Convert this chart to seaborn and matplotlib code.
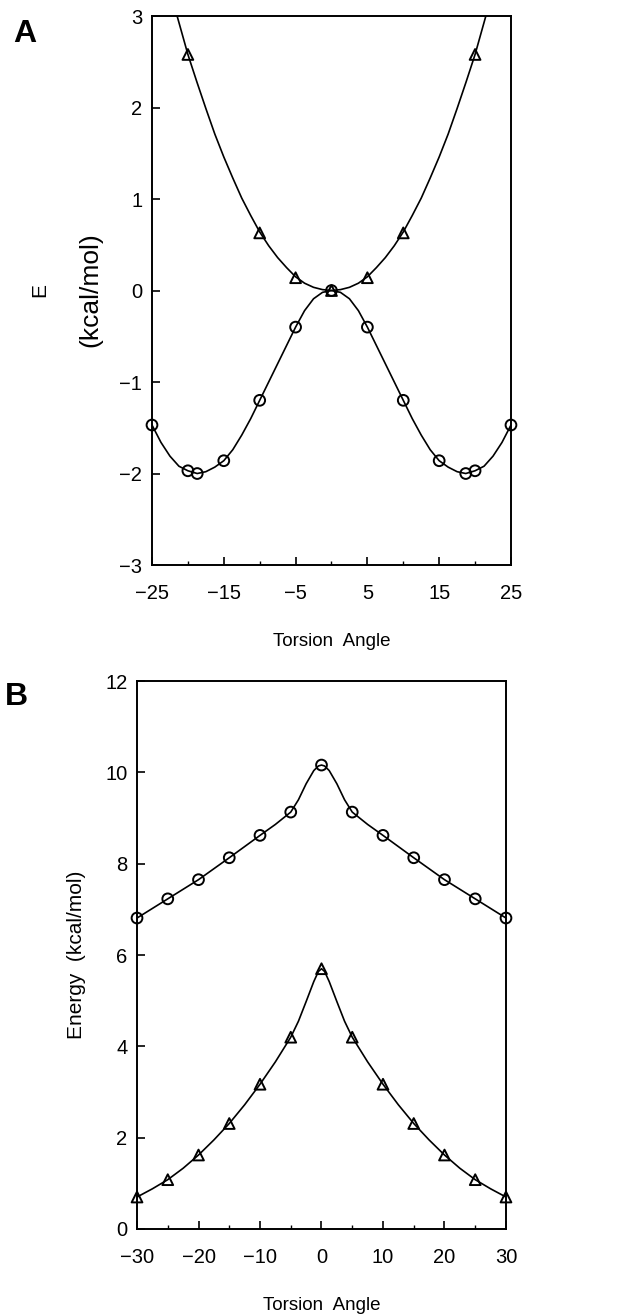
import matplotlib
matplotlib.use("Agg")
import matplotlib.pyplot as plt
import seaborn as sns
from matplotlib.ticker import MultipleLocator

# Panel A: markers
a_circ_x = [-25, -20, -18.7, -15, -10, -5, 0, 5, 10, 15, 18.7, 20, 25]
a_circ_y = [-1.47, -1.97, -2.0, -1.86, -1.2, -0.4, 0.0, -0.4, -1.2, -1.86, -2.0, -1.97, -1.47]
a_tri_x = [-20, -10, -5, 0, 5, 10, 20]
a_tri_y = [2.58, 0.63, 0.14, 0.0, 0.14, 0.63, 2.58]

# Panel A: curves
a_circ_cx = [-25, -23.75, -22.5, -21.25, -20, -18.7, -17.5, -16.25, -15, -13.75, -12.5, -11.25, -10,
             -8.75, -7.5, -6.25, -5, -3.75, -2.5, -1.25, 0,
             1.25, 2.5, 3.75, 5, 6.25, 7.5, 8.75, 10, 11.25, 12.5, 13.75, 15, 16.25, 17.5, 18.7,
             20, 21.25, 22.5, 23.75, 25]
a_circ_cy = [-1.47, -1.66, -1.81, -1.92, -1.97, -2.0, -1.98, -1.93, -1.86, -1.74, -1.58, -1.4, -1.2,
             -1.0, -0.8, -0.6, -0.4, -0.22, -0.09, -0.02, 0.0,
             -0.02, -0.09, -0.22, -0.4, -0.6, -0.8, -1.0, -1.2, -1.4, -1.58, -1.74, -1.86, -1.93, -1.98, -2.0,
             -1.97, -1.92, -1.81, -1.66, -1.47]
a_tri_cx = [-21.5, -20, -18.75, -17.5, -16.25, -15, -13.75, -12.5, -11.25, -10, -8.75, -7.5, -6.25, -5,
            -3.75, -2.5, -1.25, 0, 1.25, 2.5, 3.75, 5, 6.25, 7.5, 8.75, 10, 11.25, 12.5, 13.75, 15,
            16.25, 17.5, 18.75, 20, 21.5]
a_tri_cy = [3.0, 2.58, 2.28, 1.99, 1.71, 1.46, 1.23, 1.01, 0.82, 0.64, 0.49, 0.36, 0.25, 0.15,
            0.08, 0.035, 0.01, 0.0, 0.01, 0.035, 0.08, 0.15, 0.25, 0.36, 0.49, 0.64, 0.82, 1.01, 1.23, 1.46,
            1.71, 1.99, 2.28, 2.58, 3.0]

# Panel B: markers
b_x = [-30, -25, -20, -15, -10, -5, 0, 5, 10, 15, 20, 25, 30]
b_circ_y = [6.81, 7.23, 7.65, 8.13, 8.62, 9.13, 10.16, 9.13, 8.62, 8.13, 7.65, 7.23, 6.81]
b_tri_y = [0.70, 1.08, 1.62, 2.31, 3.17, 4.2, 5.7, 4.2, 3.17, 2.31, 1.62, 1.08, 0.70]

# Panel B: curves
b_cx = [-30, -25, -20, -15, -10, -7.5, -5, -3.75, -2.5, -1.25, -0.5, 0, 0.5, 1.25, 2.5, 3.75, 5,
        7.5, 10, 15, 20, 25, 30]
b_circ_cy = [6.81, 7.23, 7.65, 8.13, 8.62, 8.86, 9.13, 9.4, 9.75, 10.04, 10.14, 10.16, 10.14, 10.04,
             9.75, 9.4, 9.13, 8.86, 8.62, 8.13, 7.65, 7.23, 6.81]
b_tri_cx = [-30, -27.5, -25, -22.5, -20, -17.5, -15, -12.5, -10, -7.5, -5, -3.75, -2.5, -1.25, -0.5, 0,
            0.5, 1.25, 2.5, 3.75, 5, 7.5, 10, 12.5, 15, 17.5, 20, 22.5, 25, 27.5, 30]
b_tri_cy = [0.70, 0.88, 1.08, 1.33, 1.62, 1.95, 2.31, 2.72, 3.17, 3.66, 4.2, 4.55, 4.98, 5.42, 5.64, 5.7,
            5.64, 5.42, 4.98, 4.55, 4.2, 3.66, 3.17, 2.72, 2.31, 1.95, 1.62, 1.33, 1.08, 0.88, 0.70]

sns.set_theme(style="ticks")
plt.rcParams["font.family"] = ["Liberation Sans", "DejaVu Sans"]
plt.rcParams["text.color"] = "black"
plt.rcParams["axes.labelcolor"] = "black"

fig = plt.figure(figsize=(6.32, 13.14), dpi=100)
ax_a = fig.add_axes([0.2405, 0.570, 0.568, 0.4178])
ax_b = fig.add_axes([0.2168, 0.0647, 0.5838, 0.417])


def draw_marks(ax, x, y, marker):
    sns.scatterplot(x=x, y=y, ax=ax, marker=marker, s=60, facecolor="none",
                    edgecolor="black", linewidth=1.4, clip_on=False, zorder=3)


def style_axis(ax):
    for sp in ax.spines.values():
        sp.set_linewidth(1.4)
        sp.set_color("black")
    ax.tick_params(which="major", direction="in", length=6, width=1.2,
                   labelsize=14.5, colors="black")
    ax.tick_params(axis="x", which="major", pad=14)
    ax.tick_params(axis="y", which="major", pad=7)
    ax.tick_params(which="minor", direction="in", length=3, width=1.0, colors="black")
    ax.tick_params(top=False, right=False, which="both")


# ---- Panel A ----
sns.lineplot(x=a_circ_cx, y=a_circ_cy, ax=ax_a, color="black", linewidth=1.2, sort=False)
sns.lineplot(x=a_tri_cx, y=a_tri_cy, ax=ax_a, color="black", linewidth=1.2, sort=False)
draw_marks(ax_a, a_circ_x, a_circ_y, "o")
draw_marks(ax_a, a_tri_x, a_tri_y, "^")
ax_a.set_xlim(-25, 25)
ax_a.set_ylim(-3, 3)
ax_a.set_xticks([-25, -15, -5, 5, 15, 25])
ax_a.xaxis.set_minor_locator(MultipleLocator(5))
ax_a.set_yticks([-3, -2, -1, 0, 1, 2, 3])
ax_a.set_yticklabels(["\u22123", "\u22122", "\u22121", "0", "1", "2", "3"])
ax_a.set_xticklabels(["\u221225", "\u221215", "\u22125", "5", "15", "25"])
style_axis(ax_a)
ax_a.set_xlabel("Torsion  Angle", fontsize=13.5, labelpad=21)
ax_a.set_ylabel("")
fig.text(40 / 632, 1 - 290 / 1314, "E", rotation=90, fontsize=15, ha="center", va="center")
fig.text(90 / 632, 1 - 290 / 1314, "(kcal/mol)", rotation=90, fontsize=19, ha="center", va="center")
fig.text(25 / 632, 1 - 34 / 1314, "A", fontsize=23, fontweight="bold", ha="center", va="center")

# ---- Panel B ----
sns.lineplot(x=b_cx, y=b_circ_cy, ax=ax_b, color="black", linewidth=1.2, sort=False)
sns.lineplot(x=b_tri_cx, y=b_tri_cy, ax=ax_b, color="black", linewidth=1.2, sort=False)
draw_marks(ax_b, b_x, b_circ_y, "o")
draw_marks(ax_b, b_x, b_tri_y, "^")
ax_b.set_xlim(-30, 30)
ax_b.set_ylim(0, 12)
ax_b.set_xticks([-30, -20, -10, 0, 10, 20, 30])
ax_b.set_xticklabels(["\u221230", "\u221220", "\u221210", "0", "10", "20", "30"])
ax_b.xaxis.set_minor_locator(MultipleLocator(5))
ax_b.set_yticks([0, 2, 4, 6, 8, 10, 12])
style_axis(ax_b)
ax_b.set_xlabel("Torsion  Angle", fontsize=13.5, labelpad=21)
ax_b.set_ylabel("Energy  (kcal/mol)", fontsize=15, labelpad=14)
fig.text(16 / 632, 1 - 697 / 1314, "B", fontsize=23, fontweight="bold", ha="center", va="center")

fig.savefig("out.png", dpi=100)
